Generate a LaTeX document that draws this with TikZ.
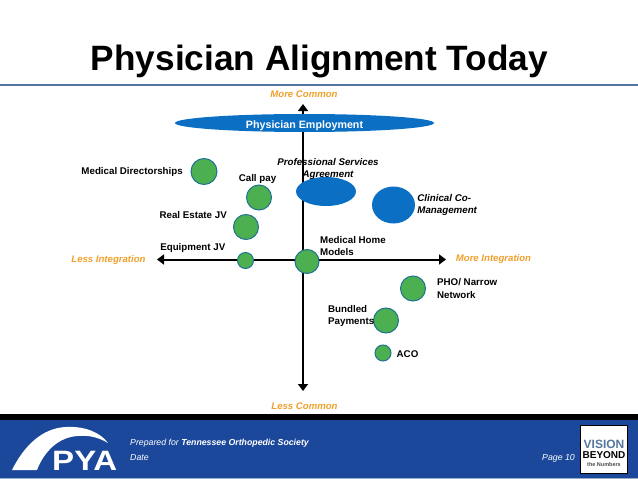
\documentclass[tikz,border=0pt]{standalone}
\usepackage{fontspec}
\setmainfont{Liberation Sans}
\usetikzlibrary{positioning, shapes.geometric, calc, arrows.meta}
\definecolor{bubblegreen}{HTML}{4CAF50}
\definecolor{bubbleedge}{HTML}{1F7391}
\definecolor{bubbleblue}{HTML}{0B6FC4}
\definecolor{axislabel}{HTML}{EFA02D}
\definecolor{footerblue}{HTML}{1C489B}
\definecolor{titleline}{HTML}{55779F}

\begin{document}
\begin{tikzpicture}[
        x=1pt,
        y=-1pt,
        node distance=2pt and 2pt,
        bubble/.style={
            circle,
            draw=bubbleedge,
            fill=bubblegreen,
            line width=1pt,
            inner sep=0pt
        },
        blueblob/.style={
            ellipse,
            fill=bubbleblue,
            inner sep=0pt
        },
        tag/.style={
            align=left,
            inner sep=0pt,
            font=\fontsize{9.75}{12.2}\selectfont\bfseries
        },
        tagit/.style={
            tag,
            font=\fontsize{9.75}{12.2}\selectfont\bfseries\itshape
        },
        axistag/.style={
            inner sep=0pt,
            text=axislabel,
            font=\fontsize{9.6}{11}\selectfont\bfseries\itshape
        },
        footertext/.style={
            inner sep=0pt,
            text=white,
            anchor=west,
            font=\fontsize{8.75}{11}\selectfont\itshape
        },
        axis/.style={-{Triangle[length=7pt,width=10pt]}, line width=2pt}
        ]
        \useasboundingbox (0,0) rectangle (638,479);
        
        % Footer band
        \fill[black] (0,414) rectangle (638,420);
        \fill[footerblue] (0,420) rectangle (638,478);
        \fill[titleline!60] (0,478) rectangle (638,479);
        
        % Title
        \node[inner sep=0pt, font=\fontsize{35.2}{38}\selectfont\bfseries] (title) at (319.5,61.5) {Physician Alignment Today};
        \fill[titleline] (0,84) rectangle (638,86);
        
        % Axis ends
        \node[axistag] (morecommon) at (304,94) {More Common};
        \node[axistag] (lesscommon) at (304.5,406) {Less Common};
        \node[axistag] (lessint) at (108.5,260.5) {Less Integration};
        \node[axistag] (moreint) at (493.5,259.5) {More Integration};
        \coordinate (axistop) at (303,104);
        \coordinate (axisbottom) at (303,391);
        \coordinate (axisleft) at (157,259.5);
        \coordinate (axisright) at (446,259.5);
        \coordinate (axismid) at (303,259.5);
        
        % Axes
        \draw[axis] (axismid) -- (axistop);
        \draw[axis] (axismid) -- (axisbottom);
        \draw[axis] (axismid) -- (axisleft);
        \draw[axis] (axismid) -- (axisright);
        
        % Blue ellipses
        \node[blueblob, minimum width=259pt, minimum height=18pt, text height=10pt, text depth=0pt, text=white, font=\fontsize{10.7}{12}\selectfont\bfseries] (employment) at (304.5,123) {Physician Employment};
        \node[blueblob, minimum width=60pt, minimum height=29pt] (psa) at (326,191.5) {};
        \node[blueblob, minimum width=43pt, minimum height=37pt] (cocm) at (393.5,205) {};
        
        % Green bubbles
        \node[bubble, minimum size=26pt] (directorships) at (204,171.5) {};
        \node[bubble, minimum size=25pt] (callpay) at (259,197.5) {};
        \node[bubble, minimum size=25pt] (realestate) at (246,227) {};
        \node[bubble, minimum size=16pt] (equipment) at (245.5,260.5) {};
        \node[bubble, minimum size=24pt] (medhome) at (307,261.5) {};
        \node[bubble, minimum size=25pt] (pho) at (413,288.5) {};
        \node[bubble, minimum size=25pt] (bundled) at (386,320.5) {};
        \node[bubble, minimum size=16pt] (aco) at (383,353) {};
        
        % Labels
        \node[tag, anchor=east] (directorshipstag) at (183,172) {Medical Directorships};
        \node[tag, anchor=center] (callpaytag) at (257.5,179) {Call pay};
        \node[tag, anchor=east] (realestatetag) at (227,215) {Real Estate JV};
        \node[tag, anchor=east] (equipmenttag) at (225.5,248) {Equipment JV};
        \node[tagit, align=center, anchor=south] (psatag) at (328,179.5) {Professional Services\\Agreement};
        \node[tagit, right=2pt of cocm] (cocmtag) {Clinical Co-\\Management};
        \node[tag, anchor=west] (medhometag) at (320,246) {Medical Home\\Models};
        \node[tag, anchor=west] (photag) at (437,288.5) {PHO/ Narrow\\Network};
        \node[tag, anchor=west] (bundledtag) at (328,316) {Bundled\\Payments};
        \node[tag, right=5pt of aco, yshift=-1pt] (acotag) {ACO};
        
        % Footer content
        \fill[white] (12,470) .. controls (24,446) and (42,428) .. (66,427) .. controls (84,426) and (100,432) .. (108,443) .. controls (98,437) and (88,435) .. (78,436) .. controls (58,437) and (44,452) .. (37,470) -- cycle;
        \node[inner sep=0pt, anchor=base west, xscale=1.18, text=white, font=\fontsize{28}{28}\selectfont\bfseries] (pya) at (52,470) {PYA};
        \node[footertext] (prepared) at (130,443) {Prepared for \textbf{Tennessee Orthopedic Society}};
        \node[footertext] (datetag) at (130,458) {Date};
        \node[footertext, anchor=east] (pagetag) at (575,458) {Page 10};
        
        % Badge
        \node[draw=black, fill=white, line width=1pt, minimum width=47pt, minimum height=48pt, inner sep=0pt] (badge) at (604,449.5) {};
        \node[inner sep=0pt, text=titleline, font=\fontsize{12}{12}\selectfont\bfseries] (vision) at (604,444) {VISION};
        \node[inner sep=0pt, text=black, font=\fontsize{10}{10}\selectfont\bfseries] (beyond) at (604,455.5) {BEYOND};
        \node[inner sep=0pt, text=black!70, font=\fontsize{5.5}{6}\selectfont\bfseries] (numbers) at (604,465) {the Numbers};
        
    \end{tikzpicture}
\end{document}
